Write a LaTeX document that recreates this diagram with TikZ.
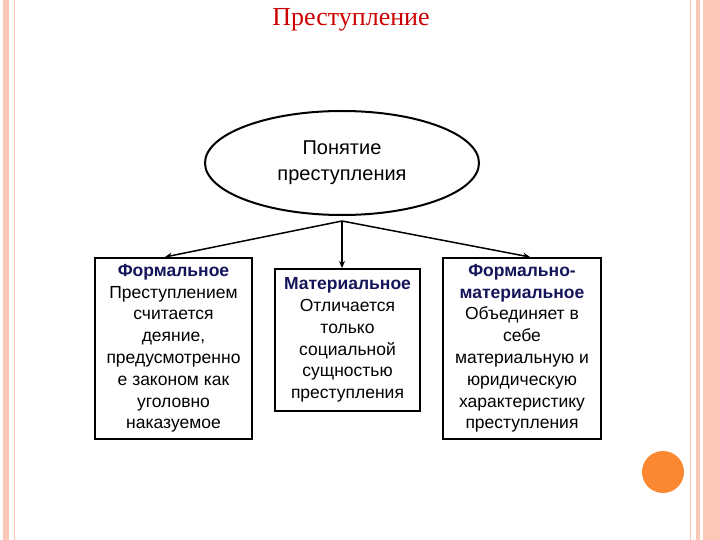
\documentclass[tikz,border=0pt]{standalone}
\usepackage{fontspec}
\setmainfont{Liberation Sans}
\newfontfamily\serifx{Liberation Serif}
\usetikzlibrary{shapes.geometric,arrows.meta}
\definecolor{pinkb}{RGB}{250,200,180}
\definecolor{navy}{RGB}{20,20,90}
\definecolor{orng}{RGB}{250,135,50}
\tikzset{box/.style={draw,line width=1.8pt,align=center,font=\fontsize{17.5}{21.8}\selectfont,anchor=north,inner sep=1pt},
conn/.style={line width=1.5pt,-{Stealth[length=7pt,width=6pt]}}}
\begin{document}
\begin{tikzpicture}[x=1pt,y=-1pt]
\useasboundingbox (0,0) rectangle (720,540);
\fill[pinkb] (3,0) rectangle (9,540);
\draw[pinkb,line width=1pt] (14,0) -- (14,540);
\draw[pinkb,line width=1pt] (690,0) -- (690,540);
\fill[pinkb] (696,0) rectangle (700,540);
\fill[pinkb] (703,0) rectangle (720,540);
\fill[orng] (663,472) circle (21);
\node[text=red!80!black,font=\serifx\fontsize{26}{30}\selectfont] (t) at (351,20) {Преступление};
\node[draw,ellipse,line width=2pt,minimum width=274,minimum height=104,align=center,font=\fontsize{20}{26}\selectfont] (e) at (342,163) {Понятие\\преступления};
\node[box,minimum width=157,minimum height=181] (l) at (173.5,257) {\textcolor{navy}{\textbf{Формальное}}\\Преступлением\\считается\\деяние,\\предусмотренно\\е законом как\\уголовно\\наказуемое};
\node[box,minimum width=145,minimum height=142] (m) at (347.5,268) {\textcolor{navy}{\textbf{Материальное}}\\Отличается\\только\\социальной\\сущностью\\преступления};
\node[box,minimum width=158,minimum height=181] (r) at (522,257) {\textcolor{navy}{\textbf{Формально-}}\\\textcolor{navy}{\textbf{материальное}}\\Объединяет в\\себе\\материальную и\\юридическую\\характеристику\\преступления};
\coordinate (s) at (342,221);
\draw[conn] (s) -- (165,257);
\draw[conn] (s) -- (m.north -| s);
\draw[conn] (s) -- (530,257);
\end{tikzpicture}
\end{document}
